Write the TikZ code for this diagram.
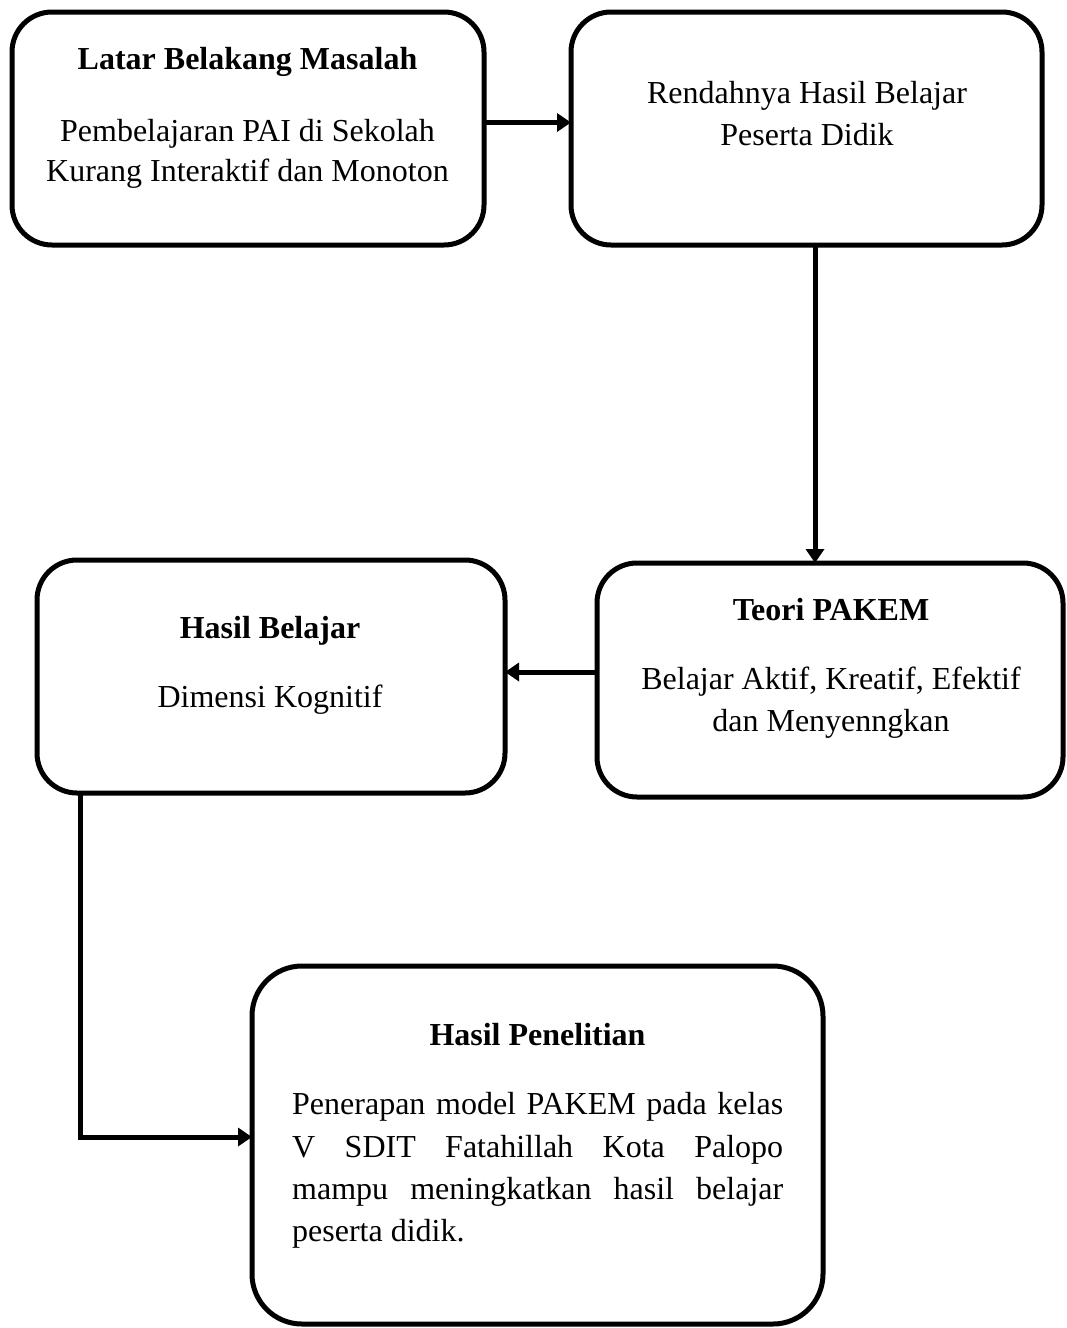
\documentclass[tikz,border=0pt]{standalone}
\usepackage{fontspec}
\setmainfont{Liberation Serif}
\usetikzlibrary{arrows.meta}
\begin{document}
\begin{tikzpicture}[x=1pt,y=-1pt,
  box/.style={draw=black,line width=5pt,rounded corners=40pt,inner sep=0pt,outer sep=0pt},
  txt/.style={anchor=base,inner sep=0pt,font=\fontsize{32}{39}\selectfont},
  ltxt/.style={anchor=base west,inner sep=0pt,font=\fontsize{32}{39}\selectfont},
  arr/.style={line width=5pt,-{Triangle[length=14pt,width=18pt]}}]
\useasboundingbox (0,0) rectangle (1066,1328);
% boxes
\node[box,minimum width=472pt,minimum height=233pt] (b1) at (248,128.5) {};
\node[box,minimum width=471pt,minimum height=233pt] (b2) at (806.5,128.5) {};
\node[box,minimum width=466pt,minimum height=234pt] (b3) at (830,680) {};
\node[box,minimum width=468pt,minimum height=233pt] (b4) at (271,676.5) {};
\node[box,rounded corners=50pt,minimum width=571pt,minimum height=358pt] (b5) at (537.5,1145) {};
% texts
\node[txt] (t1a) at (247.5,69.5) {\bfseries Latar Belakang Masalah};
\node[txt] (t1b) at (247.5,141) {Pembelajaran PAI di Sekolah};
\node[txt] (t1c) at (247.5,181) {Kurang Interaktif dan Monoton};
\node[txt] (t2a) at (807,103) {Rendahnya Hasil Belajar};
\node[txt] (t2b) at (807,145) {Peserta Didik};
\node[txt] (t3a) at (831,620) {\bfseries Teori PAKEM};
\node[txt] (t3b) at (831,689) {Belajar Aktif, Kreatif, Efektif};
\node[txt] (t3c) at (831,731) {dan Menyenngkan};
\node[txt] (t4a) at (270,638) {\bfseries Hasil Belajar};
\node[txt] (t4b) at (270,707) {Dimensi Kognitif};
\node[txt] (t5a) at (537.5,1045) {\bfseries Hasil Penelitian};
\node[ltxt] (t5b) at (292,1114) {\makebox[491pt][s]{Penerapan model PAKEM pada kelas}};
\node[ltxt] (t5c) at (292,1157) {\makebox[491pt][s]{V SDIT Fatahillah Kota Palopo}};
\node[ltxt] (t5d) at (292,1199) {\makebox[491pt][s]{mampu meningkatkan hasil belajar}};
\node[ltxt] (t5e) at (292,1241) {peserta didik.};
% connectors
\draw[arr] ([yshift=6pt]b1.east) -- ([yshift=6pt]b2.west);
\draw[arr] ([xshift=8.5pt]b2.south) -- ([xshift=8.5pt]b2.south |- b3.north);
\draw[arr] ([yshift=8pt]b3.west) -- ([yshift=8pt]b3.west -| b4.east);
\draw[arr] ([xshift=-191pt]b4.south) |- ([yshift=8pt]b5.west);
\end{tikzpicture}
\end{document}
